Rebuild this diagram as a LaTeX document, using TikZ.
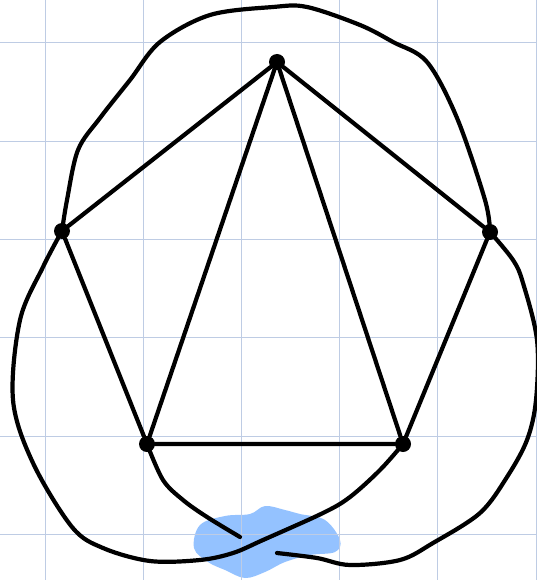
\documentclass[tikz,border=0pt]{standalone}
\usepackage{tikz}
\usepackage{xcolor}
\definecolor{gridline}{RGB}{190,204,228}
\definecolor{marker}{RGB}{148,194,255}

\tikzset{
  vtx/.style={circle, fill=black, inner sep=0pt, minimum size=16pt},
  edge/.style={line width=4.2pt, line cap=round, line join=round},
  strand/.style={edge, smooth, tension=0.55},
}

\begin{document}
\begin{tikzpicture}[x=1pt, y=-1pt]
  \useasboundingbox (0,0) rectangle (537,580);
  % highlighter blob at the crossing
  \fill[marker] plot[smooth cycle, tension=0.6] coordinates
    {(200,525) (225,516) (250,514) (265,506) (285,510) (300,514)
     (325,520) (340,540) (335,552) (310,555) (285,562) (265,572)
     (245,578) (225,570) (208,562) (194,548)};
  % squared paper
  \foreach \gx in {45,143.2,241.4,339.6,437.8,536}
    \draw[gridline, line width=1pt] (\gx,0) -- (\gx,580);
  \foreach \gy in {43,141.3,239.6,337.9,436.2,534.5}
    \draw[gridline, line width=1pt] (0,\gy) -- (537,\gy);

  % the five vertices
  \node[vtx] (t)  at (277,62)  {};
  \node[vtx] (l)  at (62,231)  {};
  \node[vtx] (r)  at (490,232) {};
  \node[vtx] (bl) at (147,444) {};
  \node[vtx] (br) at (403,444) {};

  % straight edges
  \draw[edge] (t) -- (l) -- (bl) -- (br) -- (r) -- (t);
  \draw[edge] (bl) -- (t) -- (br);

  % outer loop over the top
  \draw[strand] plot coordinates
    {(l) (67,200) (78,150) (100,118) (130,80) (160,42) (210,15)
     (273,7) (307,7) (360,25) (393,42) (427,62) (457,118) (485,200) (r)};
  % left loop, passing over at the crossing
  \draw[strand] plot coordinates
    {(l) (43,267) (20,320) (13,400) (33,463) (72,527) (103,548)
     (150,561) (200,560) (233,553) (263,540) (323,513) (350,497)
     (380,470) (br)};
  % right loop, broken where it passes under
  \coordinate (g1) at (240,537);
  \coordinate (g2) at (277,553);
  \draw[strand] plot coordinates
    {(bl) (163,480) (183,500) (207,517) (g1)};
  \draw[strand] plot coordinates
    {(g2) (317,558) (350,565) (400,560) (433,543) (480,513) (507,477)
     (527,440) (536,400) (537,340) (523,283) (513,260) (r)};
\end{tikzpicture}
\end{document}
